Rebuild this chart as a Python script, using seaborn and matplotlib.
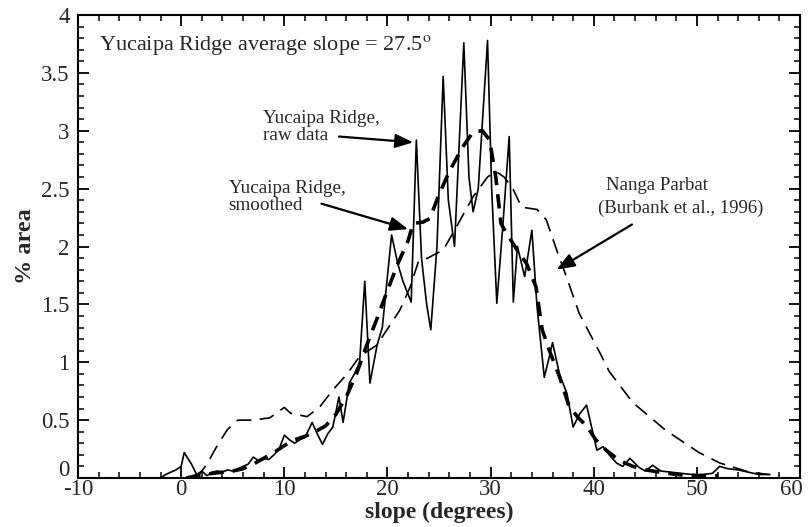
import matplotlib
matplotlib.use("Agg")
import matplotlib.pyplot as plt
import matplotlib.transforms as mtransforms
import seaborn as sns
import pandas as pd
from matplotlib.ticker import MultipleLocator

# ---- data ----
raw_x = [-2.0, -1.5, -1.0, -0.5, 0.0, 0.3, 1.0, 1.5, 2.0, 2.5, 3.0, 3.5, 4.0, 4.5, 5.0, 5.5,
         6.0, 6.5, 7.0, 7.5, 8.0, 8.5, 9.0, 9.5, 10.0, 10.5, 11.0, 11.5, 12.0, 12.7, 13.2,
         13.7, 14.2, 14.7, 15.3, 15.7, 16.3, 16.8, 17.3, 17.8, 18.3, 19.0, 19.5, 20.4, 21.0,
         21.5, 22.3, 22.8, 23.3, 23.8, 24.2, 24.8, 25.4, 25.9, 26.5, 27.4, 27.9, 28.3, 28.8,
         29.7, 30.1, 30.6, 31.2, 31.8, 32.2, 32.6, 33.3, 34.0, 34.5, 35.2, 35.7, 36.0, 36.7,
         37.4, 38.0, 38.6, 39.3, 40.3, 40.9, 41.5, 42.2, 42.8, 43.5, 44.4, 45.0, 45.7, 46.5,
         47.5, 48.5, 49.5, 50.5, 51.5, 52.2, 53.0, 54.0, 55.0, 56.0, 57.0]
raw_y = [0.0, 0.03, 0.05, 0.07, 0.1, 0.22, 0.12, 0.03, 0.06, 0.02, 0.05, 0.06, 0.05, 0.07, 0.06, 0.08,
         0.1, 0.12, 0.18, 0.15, 0.17, 0.16, 0.2, 0.25, 0.37, 0.33, 0.3, 0.33, 0.35, 0.48, 0.38,
         0.29, 0.38, 0.44, 0.7, 0.48, 0.82, 0.9, 1.0, 1.7, 0.82, 1.15, 1.3, 2.1, 1.85,
         1.7, 1.52, 2.92, 1.9, 1.5, 1.28, 2.0, 3.47, 2.4, 2.0, 3.76, 2.6, 2.3, 2.5,
         3.78, 2.5, 1.51, 2.2, 2.95, 1.52, 2.0, 1.74, 2.14, 1.48, 0.87, 1.05, 1.17, 0.89,
         0.73, 0.44, 0.55, 0.63, 0.24, 0.27, 0.2, 0.13, 0.1, 0.17, 0.09, 0.06, 0.11, 0.06,
         0.05, 0.04, 0.03, 0.03, 0.04, 0.1, 0.08, 0.07, 0.05, 0.03, 0.03]

smooth_x = [0.5, 1.5, 3, 5, 6, 7, 8, 9, 10, 11, 12, 13, 14, 15, 16, 17, 18, 19, 20, 21, 22,
            22.5, 23.4, 24.1, 25, 26, 27.3, 28.3, 29.2, 29.9, 30.5, 31, 31.5, 32.5, 33.5,
            34.4, 35, 35.7, 36.7, 37.6, 38.5, 39.3, 40.2, 41.2, 42.5, 43.8, 45, 46.5, 48, 50, 52]
smooth_y = [0.0, 0.02, 0.04, 0.06, 0.08, 0.12, 0.17, 0.22, 0.28, 0.33, 0.36, 0.4, 0.45, 0.55,
            0.7, 0.9, 1.15, 1.38, 1.62, 1.85, 2.05, 2.2, 2.21, 2.24, 2.45, 2.65, 2.86, 2.99,
            3.0, 2.92, 2.6, 2.2, 2.12, 1.98, 1.85, 1.65, 1.28, 1.1, 0.87, 0.62, 0.52, 0.45,
            0.33, 0.24, 0.15, 0.1, 0.07, 0.05, 0.03, 0.02, 0.02]

nanga_x = [1.5, 2.5, 3.5, 4.5, 5.5, 7, 8.6, 10, 10.6, 12.2, 13.4, 14.7, 16.1, 17.3, 19, 19.5,
           21.2, 22.2, 23, 23.9, 25.4, 26.5, 28.3, 29.7, 30.5, 31.3, 32.1, 33, 34.5, 35.4,
           36.4, 37.5, 38.6, 40.6, 41.5, 43.8, 47, 50.2, 52.2, 55.1, 58]
nanga_y = [0.0, 0.12, 0.28, 0.42, 0.5, 0.5, 0.52, 0.61, 0.56, 0.53, 0.61, 0.76, 0.9, 1.05, 1.15,
           1.22, 1.45, 1.65, 1.87, 1.9, 1.97, 2.14, 2.43, 2.6, 2.65, 2.6, 2.51, 2.34, 2.32, 2.23,
           1.97, 1.7, 1.42, 1.08, 0.92, 0.65, 0.41, 0.22, 0.13, 0.05, 0.02]

x_ticks = [-10, 0, 10, 20, 30, 40, 50, 60]
y_ticks = [0, 0.5, 1, 1.5, 2, 2.5, 3, 3.5, 4]
y_tick_labels = ["0", "0.5", "1", "1.5", "2", "2.5", "3", "3.5", "4"]

# ---- plotting ----
sns.set_theme(style="ticks")
plt.rcParams['font.family'] = ['Liberation Serif', 'DejaVu Serif']
plt.rcParams['mathtext.fontset'] = 'stix'
plt.rcParams['axes.unicode_minus'] = False

fig = plt.figure(figsize=(8.09, 5.27), dpi=100)
ax = fig.add_axes([0.0964, 0.093, 0.8926, 0.8785])

raw_df = pd.DataFrame({"slope": raw_x, "area": raw_y})
smooth_df = pd.DataFrame({"slope": smooth_x, "area": smooth_y})
nanga_df = pd.DataFrame({"slope": nanga_x, "area": nanga_y})

sns.lineplot(data=nanga_df, x="slope", y="area", sort=False, ax=ax, color="black", lw=1.2)
ax.lines[-1].set_dashes([9, 5])
sns.lineplot(data=smooth_df, x="slope", y="area", sort=False, ax=ax, color="black", lw=2.6)
ax.lines[-1].set_dashes([4, 2.5])
sns.lineplot(data=raw_df, x="slope", y="area", sort=False, ax=ax, color="black", lw=1.2)

ax.set_xlim(-10, 60)
ax.set_ylim(0, 4)
ax.set_xticks(x_ticks)
ax.set_yticks(y_ticks)
ax.set_yticklabels(y_tick_labels)
ax.xaxis.set_minor_locator(MultipleLocator(2))
ax.yaxis.set_minor_locator(MultipleLocator(0.1))
ax.tick_params(which="both", direction="in", top=True, right=True, color="black",
               labelsize=16.5, width=1.3)
ax.tick_params(which="major", length=8)
ax.tick_params(which="minor", length=4, width=1.1)
ax.tick_params(axis="x", pad=1)
ax.tick_params(axis="y", pad=6)
for s in ax.spines.values():
    s.set_visible(True)
    s.set_color("black")
    s.set_linewidth(1.5)

# raise the y "0" label a little so it sits above the x "-10" label, as in the reference
ylab0 = ax.yaxis.get_major_ticks()[0].label1
ylab0.set_transform(ylab0.get_transform() +
                    mtransforms.ScaledTranslation(0, 7 / 72, fig.dpi_scale_trans))
# keep the "60" label inside the picture
xlab60 = ax.xaxis.get_major_ticks()[-1].label1
xlab60.set_transform(xlab60.get_transform() +
                     mtransforms.ScaledTranslation(-6 / 72, 0, fig.dpi_scale_trans))

ax.set_xlabel("slope (degrees)", fontsize=17, fontweight="bold", labelpad=1)
ax.set_ylabel("% area", fontsize=17.5, fontweight="bold", labelpad=4)

ax.text(-8.0, 3.74, "Yucaipa Ridge average slope = 27.5$^{\\rm o}$", fontsize=16,
        ha="left", va="center")

arrow = dict(arrowstyle="-|>,head_length=0.9,head_width=0.35", color="black", lw=1.6,
             shrinkA=0, shrinkB=0)
ax.text(7.9, 3.03, "Yucaipa Ridge,\nraw data", fontsize=13.8, ha="left", va="center",
        linespacing=1.0)
ax.annotate("", xy=(22.5, 2.9), xytext=(15.3, 2.95), arrowprops=arrow)

ax.text(4.6, 2.43, "Yucaipa Ridge,\nsmoothed", fontsize=13.8, ha="left", va="center",
        linespacing=1.0)
ax.annotate("", xy=(22.0, 2.15), xytext=(13.6, 2.37), arrowprops=arrow)

ax.text(41.2, 2.53, "Nanga Parbat", fontsize=13.5, ha="left", va="center")
ax.text(40.4, 2.33, "(Burbank et al., 1996)", fontsize=13.5, ha="left", va="center")
ax.annotate("", xy=(36.4, 1.8), xytext=(43.7, 2.19), arrowprops=arrow)

fig.savefig("out.png", dpi=100)
